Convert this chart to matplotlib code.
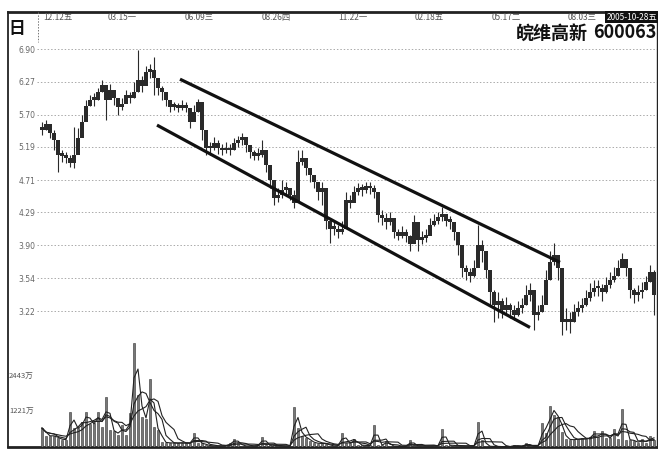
import numpy as np
import pandas as pd
import matplotlib
matplotlib.use("Agg")
import matplotlib.pyplot as plt
import matplotlib.transforms as mtransforms
from matplotlib.ticker import NullLocator

plt.rcParams['font.family'] = ['DejaVu Sans', 'Noto Sans CJK SC']
CJK = ['Noto Sans CJK SC', 'DejaVu Sans']

# price levels on the left scale (log spaced, ratio 1.1)
price_levels = [6.90, 6.27, 5.70, 5.19, 4.71, 4.29, 3.90, 3.54, 3.22]
price_labels = ['6.90', '6.27', '5.70', '5.19', '4.71', '4.29', '3.90', '3.54', '3.22']

# top date row (bar index of each label)
date_labels = ['12.12五', '03.15一', '06.09三', '08.26四', '11.22一', '02.18五', '05.17二', '08.03三']
date_pos = [0.25, 16.5, 35.75, 55, 74, 93.25, 112.5, 131.5]
last_date = '2005-10-28五'

# one bar ~ 3 trading days
closes = [5.45, 5.55, 5.40, 5.29, 5.07, 5.06, 5.03, 4.95, 5.07, 5.32,
          5.58, 5.84, 5.95, 5.95, 6.09, 6.21, 5.95, 6.12, 5.99, 5.83,
          5.88, 6.04, 5.99, 6.09, 6.30, 6.20, 6.45, 6.49, 6.34, 6.16,
          6.09, 5.95, 5.83, 5.84, 5.81, 5.86, 5.81, 5.58, 5.74, 5.91,
          5.45, 5.17, 5.17, 5.25, 5.17, 5.14, 5.17, 5.14, 5.25, 5.29,
          5.34, 5.22, 5.11, 5.06, 5.07, 5.14, 4.92, 4.71, 4.47, 4.51,
          4.58, 4.60, 4.51, 4.41, 4.97, 5.03, 4.88, 4.78, 4.68, 4.55,
          4.60, 4.19, 4.09, 4.09, 4.05, 4.09, 4.45, 4.41, 4.55, 4.60,
          4.58, 4.63, 4.60, 4.55, 4.26, 4.22, 4.17, 4.22, 4.05, 4.00,
          4.05, 4.00, 3.91, 4.17, 3.96, 3.98, 4.00, 4.13, 4.19, 4.23,
          4.27, 4.19, 4.17, 4.05, 3.90, 3.65, 3.61, 3.57, 3.65, 3.90,
          3.84, 3.63, 3.40, 3.28, 3.32, 3.23, 3.28, 3.23, 3.18, 3.25,
          3.28, 3.37, 3.42, 3.18, 3.21, 3.28, 3.52, 3.71, 3.79, 3.65,
          3.12, 3.15, 3.12, 3.21, 3.25, 3.28, 3.34, 3.40, 3.44, 3.44,
          3.40, 3.47, 3.52, 3.57, 3.65, 3.75, 3.65, 3.42, 3.37, 3.40,
          3.42, 3.50, 3.61, 3.37]
highs = [5.58, 5.61, 5.53, 5.45, 5.29, 5.14, 5.11, 5.07, 5.50, 5.48,
         5.69, 5.95, 6.04, 6.07, 6.16, 6.30, 6.21, 6.23, 6.12, 5.95,
         5.99, 6.12, 6.09, 6.27, 6.88, 6.38, 6.57, 6.61, 6.74, 6.34,
         6.20, 6.09, 5.95, 5.91, 5.90, 5.95, 5.91, 5.81, 5.86, 5.97,
         5.86, 5.37, 5.26, 5.34, 5.29, 5.23, 5.26, 5.23, 5.32, 5.35,
         5.40, 5.32, 5.20, 5.14, 5.17, 5.29, 5.11, 4.85, 4.64, 4.60,
         4.71, 4.68, 4.60, 4.58, 5.14, 5.14, 5.03, 4.88, 4.78, 4.68,
         4.68, 4.45, 4.22, 4.17, 4.13, 4.19, 4.55, 4.51, 4.63, 4.67,
         4.66, 4.68, 4.68, 4.64, 4.51, 4.32, 4.28, 4.29, 4.17, 4.09,
         4.12, 4.09, 4.02, 4.26, 4.09, 4.07, 4.09, 4.22, 4.27, 4.29,
         4.36, 4.27, 4.24, 4.14, 4.02, 3.75, 3.68, 3.65, 3.73, 4.13,
         3.96, 3.75, 3.54, 3.42, 3.40, 3.34, 3.35, 3.30, 3.28, 3.32,
         3.34, 3.47, 3.49, 3.32, 3.28, 3.37, 3.63, 3.84, 3.93, 3.75,
         3.32, 3.25, 3.21, 3.29, 3.32, 3.34, 3.42, 3.49, 3.52, 3.52,
         3.48, 3.56, 3.61, 3.66, 3.73, 3.81, 3.73, 3.54, 3.44, 3.47,
         3.50, 3.57, 3.68, 3.63]
lows = [5.37, 5.45, 5.32, 5.14, 4.82, 4.97, 4.95, 4.89, 4.88, 5.22,
        5.42, 5.69, 5.84, 5.84, 5.95, 6.09, 5.61, 6.00, 5.86, 5.69,
        5.78, 5.91, 5.90, 5.99, 6.09, 6.09, 6.30, 6.34, 6.04, 6.04,
        5.95, 5.84, 5.74, 5.78, 5.74, 5.78, 5.74, 5.48, 5.61, 5.74,
        5.29, 5.07, 5.07, 5.14, 5.09, 5.07, 5.10, 5.07, 5.14, 5.19,
        5.22, 5.11, 5.03, 5.00, 5.00, 5.04, 4.82, 4.60, 4.38, 4.42,
        4.48, 4.51, 4.45, 4.35, 4.78, 4.92, 4.78, 4.68, 4.60, 4.45,
        4.38, 4.09, 3.92, 4.02, 3.98, 4.03, 4.32, 4.35, 4.47, 4.51,
        4.50, 4.54, 4.52, 4.47, 4.17, 4.13, 4.09, 4.13, 3.98, 3.96,
        3.98, 3.94, 3.84, 3.98, 3.84, 3.91, 3.94, 4.05, 4.12, 4.15,
        4.19, 4.12, 4.09, 3.96, 3.79, 3.56, 3.52, 3.50, 3.56, 3.73,
        3.71, 3.54, 3.28, 3.12, 3.16, 3.16, 3.18, 3.16, 3.14, 3.17,
        3.20, 3.28, 3.32, 3.05, 3.14, 3.21, 3.40, 3.52, 3.68, 3.52,
        3.00, 3.05, 3.02, 3.12, 3.17, 3.21, 3.27, 3.32, 3.36, 3.36,
        3.32, 3.39, 3.44, 3.50, 3.57, 3.68, 3.57, 3.34, 3.30, 3.32,
        3.34, 3.42, 3.50, 3.18]

# volume in 万 shares
volumes = [660, 380, 400, 380, 300, 250, 260, 1220, 660, 650,
           870, 1220, 800, 820, 1220, 700, 1750, 600, 550, 420,
           770, 420, 1200, 3630, 1810, 1050, 980, 2370, 700, 600,
           180, 140, 150, 130, 140, 150, 130, 140, 490, 140,
           130, 60, 40, 35, 40, 35, 60, 130, 280, 130,
           40, 35, 40, 35, 60, 350, 70, 60, 60, 35,
           30, 35, 40, 1400, 660, 380, 320, 200, 140, 120,
           130, 110, 40, 35, 60, 490, 140, 140, 280, 70,
           60, 50, 60, 770, 60, 70, 210, 30, 25, 20,
           25, 30, 240, 40, 35, 40, 35, 40, 45, 50,
           630, 70, 60, 50, 40, 35, 40, 35, 40, 870,
           240, 35, 20, 15, 15, 10, 15, 10, 70, 20,
           30, 140, 30, 25, 30, 840, 490, 1430, 1120, 1050,
           520, 280, 250, 260, 280, 300, 280, 350, 560, 350,
           560, 320, 300, 630, 280, 1330, 250, 260, 200, 140,
           280, 130, 390, 250]
vol_marks = [1221, 2443]

# hand-drawn trend channel (bar index, price)
channel_upper = ([34.5, 129.5], [6.32, 3.71])
channel_lower = ([28.75, 122.0], [5.53, 3.07])

W, H = 658, 455
fig = plt.figure(figsize=(W / 100, H / 100), dpi=100)
fig.patch.set_facecolor('white')

def frac(x0, y0, x1, y1):
    # pixel box -> figure fraction
    return [x0 / W, 1 - y1 / H, (x1 - x0) / W, (y1 - y0) / H]

# outer frame
frame = fig.add_axes(frac(8, 12, 657, 447))
frame.set_xticks([])
frame.set_yticks([])
frame.patch.set_alpha(0)
for side, lw in [('top', 2.0), ('bottom', 2.0), ('left', 1.3), ('right', 1.0)]:
    frame.spines[side].set_linewidth(lw)
    frame.spines[side].set_color('#222222')

idx = np.arange(len(closes))
c = np.array(closes)
o = np.r_[c[0], c[:-1]]
xlim = (-1.25, 153.75)

# price panel
ax = fig.add_axes(frac(37, 40, 657, 340))
ax.set_yscale('log')
ax.set_xlim(*xlim)
ax.set_ylim(2.96, 7.083)
ax.patch.set_alpha(0)
for s in ax.spines.values():
    s.set_visible(False)
ax.set_xticks([])
ax.yaxis.set_minor_locator(NullLocator())
ax.set_yticks(price_levels)
ax.set_yticklabels(price_labels)
ax.tick_params(axis='y', length=0, pad=1, labelsize=5.5, labelcolor='#666666')
for lv in price_levels:
    ax.axhline(lv, color='#aaaaaa', lw=0.7, ls=(0, (1.5, 2)), zorder=0)

ax.vlines(idx, lows, highs, color='#2a2a2a', lw=0.8, zorder=2)
bot = np.minimum(o, c)
top = np.maximum(o, c)
hgt = np.maximum(top - bot, bot * 0.008)
ax.bar(idx, hgt, bottom=bot, width=0.85, color='#2a2a2a', zorder=2)

ax.plot(*channel_upper, color='#111111', lw=2.3, solid_capstyle='butt', zorder=3)
ax.plot(*channel_lower, color='#111111', lw=2.3, solid_capstyle='butt', zorder=3)

# volume panel
axv = fig.add_axes(frac(37, 340, 657, 447))
axv.set_xlim(*xlim)
axv.set_ylim(0, 3733)
axv.patch.set_alpha(0)
for s in axv.spines.values():
    s.set_visible(False)
axv.set_xticks([])
axv.set_yticks([])
v = pd.Series(volumes, dtype=float)
axv.bar(idx, v, width=0.7, color='#777777', edgecolor='#333333', linewidth=0.4, zorder=1)
for win in (2, 4, 7):
    axv.plot(idx, v.rolling(win, min_periods=1).mean(), color='#222222', lw=0.8, zorder=2)
trans_v = mtransforms.blended_transform_factory(fig.transFigure, axv.transData)
for m in vol_marks:
    axv.text(9 / W, m, f'{m}万', transform=trans_v, ha='left', va='center',
             fontsize=5.5, color='#555555', family=CJK)

# top row: period box, dates, title
fig.text(17 / W, 1 - 29 / H, '日', fontsize=12, fontweight='bold', family=CJK,
         ha='center', va='center', color='#111111')
fig.add_artist(plt.Line2D([38 / W, 38 / W], [1 - 12 / H, 1 - 42 / H], color='#777777',
                          lw=0.7, ls=(0, (1.5, 1.5)), transform=fig.transFigure))
trans_d = mtransforms.blended_transform_factory(ax.transData, fig.transFigure)
for lab, p in zip(date_labels, date_pos):
    ax.text(p, 1 - 17 / H, lab, transform=trans_d, ha='left', va='center',
            fontsize=6, color='#555555', family=CJK)
fig.text(657 / W, 1 - 17 / H, last_date, ha='right', va='center', fontsize=6,
         color='white', family=CJK,
         bbox=dict(boxstyle='square,pad=0.15', fc='#111111', ec='none'))

fig.text(588 / W, 1 - 33 / H, '皖维高新', ha='right', va='center', fontsize=13,
         fontweight='bold', family=CJK, color='#111111')
fig.text(657 / W, 1 - 33 / H, '600063', ha='right', va='center', fontsize=13,
         fontweight='bold', family=CJK, color='#111111')

fig.savefig('out.png', dpi=100, facecolor='white')
